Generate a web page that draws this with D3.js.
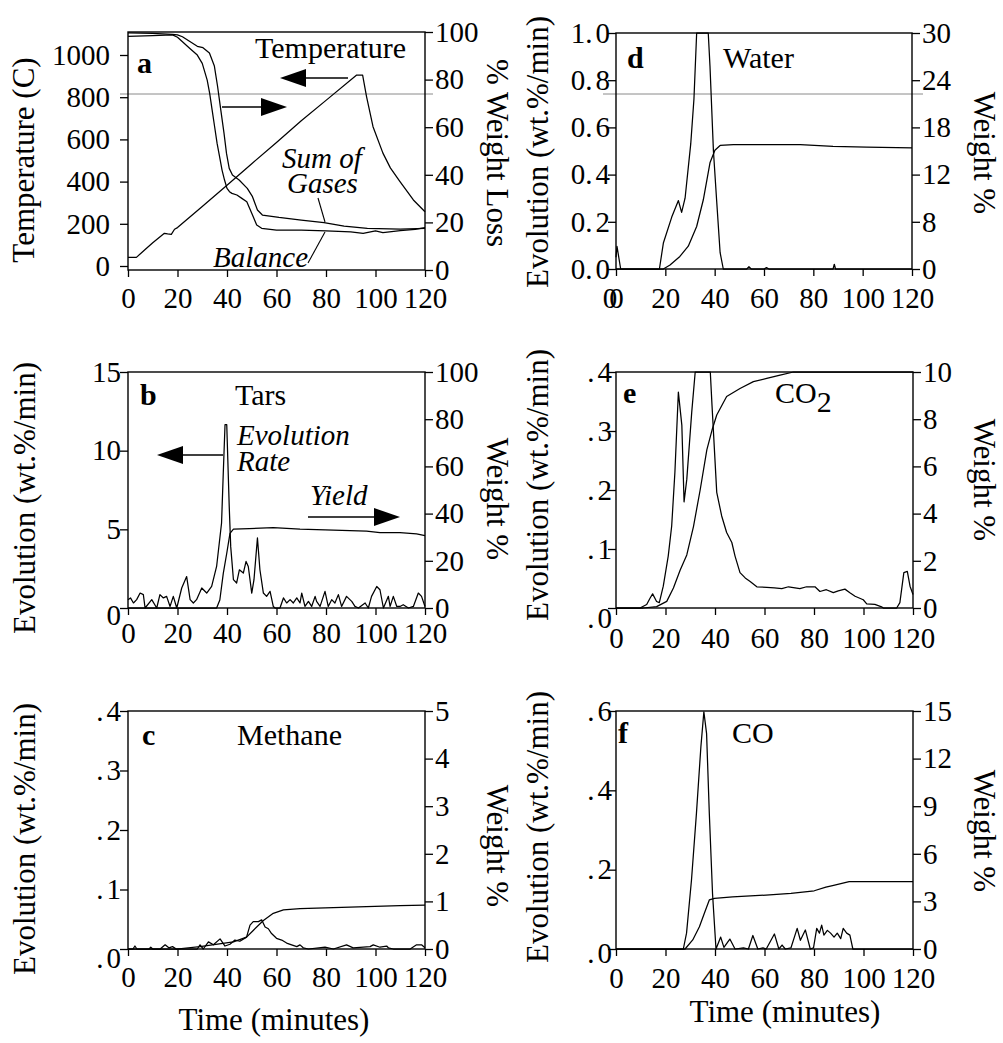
<!DOCTYPE html>
<html>
<head>
<meta charset="utf-8">
<script src="https://cdn.jsdelivr.net/npm/d3@7"></script>
<style>
  body { margin: 0; background: #fff; }
  svg text { font-family: "Liberation Serif", "Times New Roman", serif; fill: #000; }
</style>
</head>
<body>
<div id="chart"></div>
<script>
// ---- data: [time (min), value] ----
const xTicks = [0, 20, 40, 60, 80, 100, 120];

// a: temperature (left, C) and weight loss (right, %)
const temperature = [[0,41],[3.4,41],[6.7,76],[10,110],[14.7,155],[16,152],[17.5,150],[18.8,174],[20,182],[30,282],[40,383],[50,485],[60,585],[70,688],[80,785],[92.4,905],[94.8,905],[96.4,802],[99,660],[103,535],[106,465],[109.9,400],[115.3,313],[120,257]];
const balance = [[0,98.2],[10,98.5],[18,98.8],[20,97.8],[22,95.9],[25,93.1],[28,90.3],[30,86.8],[32,79.8],[33,74.2],[34,67.2],[35,60.2],[36,53.2],[37,47.6],[38,42],[39,37.8],[40,34.3],[41,32.9],[42,32.2],[44,31.5],[46,30.1],[48,28.7],[50,23.8],[52,18.9],[54,17.5],[60,16.8],[70,16.8],[80,16.4],[90,16.0],[95,15.4],[100,16.4],[103,15.7],[110,16.5],[116,17.1],[120,17.8]];
const sumGases = [[0,99.6],[10,99.4],[18,99],[20,98.8],[22,98],[25,96],[28,94],[30.3,93.4],[32.9,91.2],[34.9,85.7],[36.2,77.1],[37.5,67.2],[38.8,57.4],[39.8,49],[40.9,42.7],[42.2,39.9],[44.9,37.8],[48.2,34.3],[50.3,30.8],[52.3,25.2],[54.3,23.1],[61,22.1],[70,21],[79.2,19.9],[87.3,18.4],[96.7,17.5],[110,17.2],[120,17.5]];

// b: tars
const tarRate = [[0,0.53],[1,0.64],[2.2,0.32],[3.5,0.53],[4.9,0.95],[6.2,0.85],[6.9,0],[9.6,0.53],[11.6,0],[12.9,0.85],[14.3,0.64],[15.6,0.74],[17,0.1],[18.3,0.74],[19.7,0],[21.7,1.27],[23.7,2.0],[25.1,0.53],[26.4,0.32],[27.7,0.53],[29.8,1.27],[31.8,0.95],[33.8,1.37],[35.8,2.64],[37.8,5.4],[38.5,8.6],[39.2,11.65],[39.9,11.65],[40.9,6.46],[41.5,3.9],[42.6,1.8],[43.9,1.59],[45,2.43],[46.6,2.22],[47.7,2.96],[48.6,2.64],[50,0.95],[50.9,1.8],[52.3,4.45],[53.3,2.43],[54.7,0.95],[56,0.74],[57.4,1.06],[58.7,0.1],[59.4,0],[61.4,0],[62.8,0.64],[64.1,0.32],[65.5,0.53],[66.8,0.32],[68.2,0.64],[69.5,0.32],[70.2,0.95],[71.5,0.1],[72.9,0.42],[74.2,0.1],[75.6,0.74],[76.2,0.42],[77.6,0.1],[79.6,1.06],[80.9,0.1],[82.3,0.53],[83.6,0.32],[85,0.85],[86.3,0.1],[88.3,0.74],[90.4,0.42],[91.7,0.1],[93.1,0],[95.8,0.32],[97.1,0],[98.4,0.74],[100.5,1.37],[101.8,1.16],[103.2,0],[105.2,0.74],[105.9,0.1],[107.2,0.74],[108.6,0.1],[109.9,0.1],[111.2,0.21],[113.3,0],[115.3,0.1],[117.3,0.95],[118.6,0.74],[120,0.1]];
const tarYield = [[0,0],[35.8,0],[37.1,3.4],[38.5,14.7],[39.9,23.2],[41.2,31.6],[42.6,33.4],[49,33.6],[58.7,34.1],[69.5,33.4],[83,33],[96.4,32.6],[101.8,31.9],[109.9,31.9],[116.6,31.4],[120,30.7]];

// c: methane
const methaneRate = [[0,0],[2,0],[2.8,0.005],[3.6,0],[8.5,0],[9.2,0.003],[10,0],[13,0],[15,0.007],[16.5,0.002],[18,0.004],[19.5,0],[28,0],[29.1,0.007],[30.4,0],[32.5,0.012],[34.5,0.007],[37.2,0.017],[39.2,0.005],[41.2,0.008],[43.2,0.015],[45.2,0.013],[47.9,0.02],[49.3,0.04],[50.6,0.046],[52.7,0.046],[54,0.049],[55.4,0.037],[56.7,0.034],[58,0.026],[60,0.018],[62.1,0.015],[64.1,0.01],[66.1,0.007],[68.2,0.004],[69.5,0.007],[70.8,0.002],[72.9,0],[79.6,0.003],[83,0],[88.3,0.007],[91,0.002],[97.8,0.004],[99.1,0.007],[101.8,0.003],[104.5,0.005],[105.2,0.002],[107.2,0],[114,0],[116.6,0.007],[118.6,0.007],[120,0.002]];
const methaneYield = [[0,0],[19.7,0],[29.1,0.05],[42.6,0.15],[47.9,0.25],[50.6,0.39],[54.7,0.6],[58.7,0.75],[62.8,0.82],[69.5,0.85],[83,0.87],[96.4,0.89],[109.9,0.91],[120,0.92]];

// d: water
const waterRate = [[0,0.05],[0.4,0.096],[1.9,0],[17.6,0],[19.2,0.11],[22.6,0.22],[25.3,0.29],[26.6,0.24],[28,0.3],[30.3,0.53],[31.6,0.72],[32.7,1.0],[37.4,1.0],[38.1,0.86],[39.5,0.5],[40.8,0.29],[42.2,0.07],[43.5,0],[53,0],[53.9,0.01],[54.8,0],[60,0],[61,0.006],[62,0],[88,0],[88.5,0.02],[89,0],[120,0]];
const waterYield = [[0,0],[19.2,0],[21.9,0.5],[25.9,1.6],[29.3,2.9],[32.7,5.4],[35.4,8.8],[38.1,13.5],[40.1,15.1],[42.2,15.7],[47.6,15.8],[74.7,15.8],[88,15.6],[101.6,15.5],[120,15.4]];

// e: CO2
const co2Rate = [[0,0],[9.7,0],[12.4,0.006],[13.8,0.017],[14.8,0.024],[16.4,0.011],[17.5,0.009],[19.1,0.037],[21.1,0.088],[22.5,0.139],[23.8,0.23],[25.2,0.366],[26.6,0.31],[27.5,0.18],[28.6,0.218],[30.6,0.332],[32,0.4],[38.1,0.4],[38.8,0.343],[40.7,0.196],[42.7,0.156],[44.7,0.128],[46.8,0.111],[48.1,0.088],[50.1,0.06],[52.2,0.051],[54.2,0.045],[56.9,0.036],[60.9,0.035],[64,0.034],[67,0.033],[69.7,0.036],[74.3,0.033],[77,0.036],[80.4,0.036],[82.4,0.028],[85,0.031],[87.8,0.026],[89.8,0.029],[92.5,0.032],[94.5,0.026],[96.6,0.02],[99.9,0.014],[101.3,0.007],[104.6,0.006],[107.3,0.002],[108,0],[113.4,0],[114.7,0.009],[116.3,0.06],[117.7,0.062],[118.8,0.037],[120,0.023]];
const co2Yield = [[0,0],[11,0],[16.4,0.06],[20.5,0.28],[23.2,0.85],[25.9,1.6],[28.6,2.25],[31.3,3.45],[34,5.0],[36.7,6.7],[38.8,7.54],[40.7,8.18],[44.7,8.96],[50.1,9.3],[55.5,9.59],[60.9,9.73],[66.3,9.87],[71.7,10],[120,10]];

// f: CO
const coRate = [[0,0],[27.2,0],[28.5,0.04],[30.5,0.174],[32.5,0.342],[34.3,0.51],[35.5,0.598],[36.6,0.543],[37.7,0.342],[39,0.14],[40.4,0],[42.3,0.03],[43.6,0.004],[46,0.025],[48.1,0],[51.5,0.003],[53.5,0],[55.3,0.034],[57.3,0],[59.4,0.003],[60.7,0],[64,0.038],[65.8,0],[67.1,0.01],[68.4,0],[70.7,0.003],[73.2,0.052],[74.5,0.022],[76.5,0.048],[78.5,0],[79.8,0.003],[81.1,0.052],[82.2,0.04],[83.1,0.06],[84,0.035],[85.4,0.047],[86.7,0.04],[88.1,0.03],[89.4,0.04],[90.8,0.026],[91.8,0.052],[93.2,0.04],[94.5,0.035],[95.7,0],[120,0]];
const coYield = [[0,0],[27.9,0],[31,0.57],[33.7,1.4],[35.7,2.25],[37.7,3.09],[39.8,3.19],[47.1,3.29],[60.6,3.4],[70.7,3.5],[80.1,3.67],[84.8,3.9],[87.5,4.0],[94.2,4.24],[98.3,4.24],[120,4.24]];

// ---- axis ticks and labels ----
const tempTicks = [0, 200, 400, 600, 800, 1000];
const lossTicks = [0, 20, 40, 60, 80, 100];
const tarTicks = [0, 5, 10, 15];
const methaneTicks = [0, 0.1, 0.2, 0.3, 0.4];
const methaneRightTicks = [0, 1, 2, 3, 4, 5];
const waterTicks = [0, 0.2, 0.4, 0.6, 0.8, 1.0];
const waterRightTicks = [0, 6, 12, 18, 24, 30];
const waterRightLabels = ["0", "8", "12", "18", "24", "30"];   // as printed
const co2Ticks = [0, 0.1, 0.2, 0.3, 0.4];
const co2RightTicks = [0, 2, 4, 6, 8, 10];
const coTicks = [0, 0.2, 0.4, 0.6];
const coRightTicks = [0, 3, 6, 9, 12, 15];

const dotFmt = d => d3.format(".1f")(d).replace(/^0/, "");   // ".4" style

// ---- panels (layout) ----
const panels = [
  { id: "a", x0: 128, x1: 425, top: 32, bottom: 270,
    leftDomain: [0, 1000], leftRange: [266, 55], leftTicks: tempTicks, leftFmt: d3.format("d"), leftPad: 10, zeroShift: 0,
    rightDomain: [0, 100], rightTicks: lossTicks, rightFmt: d3.format("d"),
    xPad: 10, leftTitle: "Temperature (C)", leftTitlePos: [34, 160], rightTitle: "% Weight Loss", rightTitlePos: [487, 153],
    series: [{data: temperature, axis: "L"}, {data: balance, axis: "R"}, {data: sumGases, axis: "R"}],
    texts: [
      {t: "a", x: 9, y: 41, w: "bold"},
      {t: "Temperature", x: 127, y: 26},
      {t: "Sum of", x: 154, y: 136, i: true},
      {t: "Gases", x: 159, y: 161, i: true},
      {t: "Balance", x: 85, y: 235, i: true}
    ],
    arrows: [{from: [220, 46], to: [152, 46]}, {from: [94, 75], to: [159, 75]}],
    pointers: [{from: [190, 166], to: [197, 190]}, {from: [180, 231], to: [197, 200]}],
    scanRule: [-8, 62, 305] },
  { id: "b", x0: 128, x1: 425, top: 372, bottom: 608,
    leftDomain: [0, 15], leftTicks: tarTicks, leftFmt: d3.format("d"), leftPad: -1, zeroShift: 7,
    rightDomain: [0, 100], rightTicks: lossTicks, rightFmt: d3.format("d"),
    xPad: 7, leftTitle: "Evolution (wt.%/min)", leftTitlePos: [35, 498], rightTitle: "Weight %", rightTitlePos: [487, 499],
    series: [{data: tarRate, axis: "L"}, {data: tarYield, axis: "R"}],
    texts: [
      {t: "b", x: 12, y: 33, w: "bold"},
      {t: "Tars", x: 107, y: 33},
      {t: "Evolution", x: 109, y: 73, i: true},
      {t: "Rate", x: 109, y: 99, i: true},
      {t: "Yield", x: 182, y: 133, i: true}
    ],
    arrows: [{from: [95, 83], to: [29, 83]}, {from: [180, 145], to: [272, 145]}],
    pointers: [] },
  { id: "c", x0: 128, x1: 425, top: 711, bottom: 949,
    leftDomain: [0, 0.4], leftTicks: methaneTicks, leftFmt: dotFmt, leftPad: -1, zeroShift: 9,
    rightDomain: [0, 5], rightTicks: methaneRightTicks, rightFmt: d3.format("d"),
    xPad: 10, leftTitle: "Evolution (wt.%/min)", leftTitlePos: [35, 839], rightTitle: "Weight %", rightTitlePos: [487, 846],
    bottomTitle: "Time (minutes)", bottomTitlePos: [274, 1030],
    series: [{data: methaneRate, axis: "L"}, {data: methaneYield, axis: "R"}],
    texts: [
      {t: "c", x: 14, y: 34, w: "bold"},
      {t: "Methane", x: 109, y: 34}
    ],
    arrows: [], pointers: [] },
  { id: "d", x0: 616, x1: 912, top: 33, bottom: 269,
    leftDomain: [0, 1], leftTicks: waterTicks, leftFmt: d3.format(".1f"), leftPad: -2, zeroShift: 0,
    rightDomain: [0, 30], rightTicks: waterRightTicks, rightFmt: (d, i) => waterRightLabels[i],
    xPad: 11, doubleZero: true, leftTitle: "Evolution (wt.%/min)", leftTitlePos: [548, 152], rightTitle: "Weight %", rightTitlePos: [974, 153],
    series: [{data: waterRate, axis: "L"}, {data: waterYield, axis: "R"}],
    texts: [
      {t: "d", x: 11, y: 35, w: "bold"},
      {t: "Water", x: 107, y: 35}
    ],
    arrows: [], pointers: [],
    scanRule: [-13, 61, 307] },
  { id: "e", x0: 616, x1: 913, top: 372, bottom: 608,
    leftDomain: [0, 0.4], leftTicks: co2Ticks, leftFmt: dotFmt, leftPad: -4, zeroShift: 10,
    rightDomain: [0, 10], rightTicks: co2RightTicks, rightFmt: d3.format("d"),
    xPad: 12, leftTitle: "Evolution (wt.%/min)", leftTitlePos: [548, 485], rightTitle: "Weight %", rightTitlePos: [974, 480],
    series: [{data: co2Rate, axis: "L"}, {data: co2Yield, axis: "R"}],
    texts: [
      {t: "e", x: 7, y: 31, w: "bold"},
      {t: "CO", x: 159, y: 31, sub: "2"}
    ],
    arrows: [], pointers: [] },
  { id: "f", x0: 616, x1: 913, top: 711, bottom: 949,
    leftDomain: [0, 0.6], leftTicks: coTicks, leftFmt: dotFmt, leftPad: -4, zeroShift: 4,
    rightDomain: [0, 15], rightTicks: coRightTicks, rightFmt: d3.format("d"),
    xPad: 11, leftTitle: "Evolution (wt.%/min)", leftTitlePos: [548, 827], rightTitle: "Weight %", rightTitlePos: [974, 831],
    bottomTitle: "Time (minutes)", bottomTitlePos: [785, 1022],
    series: [{data: coRate, axis: "L"}, {data: coYield, axis: "R"}],
    texts: [
      {t: "f", x: 2, y: 32, w: "bold"},
      {t: "CO", x: 116, y: 32}
    ],
    arrows: [], pointers: [] }
];

const svg = d3.select("#chart").append("svg")
  .attr("width", 1003)
  .attr("height", 1043)
  .attr("font-family", "Liberation Serif, Times New Roman, serif");

const FONT = 29;

// a little extra room after a decimal point, like the printed figure
function spreadDots(sel) {
  sel.each(function() {
    const s = this.textContent;
    if (s.indexOf(".") < 0) return;
    const t = d3.select(this).text(null);
    const k = s.indexOf(".");
    t.append("tspan").text(s.slice(0, k + 1));
    t.append("tspan").attr("dx", 3).text(s.slice(k + 1));
  });
}

function styleAxis(g) {
  g.attr("font-size", FONT).attr("font-family", null);
  g.select(".domain").remove();
  g.selectAll(".tick line").attr("stroke", "#000").attr("stroke-width", 1.3);
}

panels.forEach(p => {
  const g = svg.append("g").attr("class", "panel panel-" + p.id);

  const x = d3.scaleLinear().domain([0, 120]).range([p.x0, p.x1]);
  const yL = d3.scaleLinear().domain(p.leftDomain).range(p.leftRange || [p.bottom, p.top]);
  const yR = d3.scaleLinear().domain(p.rightDomain).range([p.bottom, p.top]);

  // faint scanner rule across the top row
  if (p.scanRule) {
    g.append("line")
      .attr("x1", p.x0 + p.scanRule[0]).attr("x2", p.x0 + p.scanRule[2])
      .attr("y1", p.top + p.scanRule[1]).attr("y2", p.top + p.scanRule[1])
      .attr("stroke", "#8a8a8a").attr("stroke-width", 1);
  }

  // curves
  p.series.forEach(s => {
    const y = s.axis === "L" ? yL : yR;
    g.append("path")
      .datum(s.data)
      .attr("fill", "none")
      .attr("stroke", "#000")
      .attr("stroke-width", 1.25)
      .attr("stroke-linejoin", "round")
      .attr("d", d3.line().x(d => x(d[0])).y(d => y(d[1])));
  });

  // frame
  g.append("rect")
    .attr("x", p.x0).attr("y", p.top)
    .attr("width", p.x1 - p.x0).attr("height", p.bottom - p.top)
    .attr("fill", "none").attr("stroke", "#000").attr("stroke-width", 1.4);

  // axes
  const gx = g.append("g")
    .attr("transform", `translate(0,${p.bottom})`)
    .call(d3.axisBottom(x).tickValues(xTicks).tickSize(7).tickSizeOuter(0)
      .tickPadding(p.xPad).tickFormat(d3.format("d")));
  styleAxis(gx);
  if (p.doubleZero) {
    gx.append("text")
      .attr("x", x(0) - 6).attr("y", 7 + p.xPad).attr("dy", "0.71em")
      .attr("text-anchor", "middle").text("0");
  }

  const gl = g.append("g")
    .attr("transform", `translate(${p.x0},0)`)
    .call(d3.axisLeft(yL).tickValues(p.leftTicks).tickSize(8).tickSizeOuter(0)
      .tickPadding(p.leftPad).tickFormat(p.leftFmt));
  styleAxis(gl);
  gl.selectAll(".tick text").filter(d => d === 0).attr("transform", `translate(0,${p.zeroShift})`);
  spreadDots(gl.selectAll(".tick text"));

  const gr = g.append("g")
    .attr("transform", `translate(${p.x1},0)`)
    .call(d3.axisRight(yR).tickValues(p.rightTicks).tickSize(8).tickSizeOuter(0)
      .tickPadding(2).tickFormat(p.rightFmt));
  styleAxis(gr);

  // axis titles
  g.append("text")
    .attr("transform", `translate(${p.leftTitlePos[0]},${p.leftTitlePos[1]}) rotate(-90)`)
    .attr("text-anchor", "middle").attr("font-size", 31)
    .text(p.leftTitle);
  g.append("text")
    .attr("transform", `translate(${p.rightTitlePos[0]},${p.rightTitlePos[1]}) rotate(90)`)
    .attr("text-anchor", "middle").attr("font-size", 31)
    .text(p.rightTitle);
  if (p.bottomTitle) {
    g.append("text")
      .attr("x", p.bottomTitlePos[0]).attr("y", p.bottomTitlePos[1])
      .attr("text-anchor", "middle").attr("font-size", 31)
      .text(p.bottomTitle);
  }

  // in-plot labels
  p.texts.forEach(t => {
    const el = g.append("text")
      .attr("x", p.x0 + t.x).attr("y", p.top + t.y)
      .attr("font-size", t.i ? 29 : 30)
      .attr("font-weight", t.w || null)
      .attr("font-style", t.i ? "italic" : null)
      .text(t.t);
    if (t.sub) el.append("tspan").attr("dy", 9).text(t.sub);
  });

  // arrows with filled heads
  p.arrows.forEach(a => {
    const [fx, fy] = [p.x0 + a.from[0], p.top + a.from[1]];
    const [tx, ty] = [p.x0 + a.to[0], p.top + a.to[1]];
    const len = Math.hypot(tx - fx, ty - fy);
    const ux = (tx - fx) / len, uy = (ty - fy) / len;
    const hl = 26, hw = 9;
    const bx = tx - ux * hl, by = ty - uy * hl;
    g.append("line")
      .attr("x1", fx).attr("y1", fy).attr("x2", bx).attr("y2", by)
      .attr("stroke", "#000").attr("stroke-width", 1.3);
    g.append("path")
      .attr("d", `M${tx},${ty}L${bx - uy * hw},${by + ux * hw}L${bx + uy * hw},${by - ux * hw}Z`)
      .attr("fill", "#000");
  });

  p.pointers.forEach(l => {
    g.append("line")
      .attr("x1", p.x0 + l.from[0]).attr("y1", p.top + l.from[1])
      .attr("x2", p.x0 + l.to[0]).attr("y2", p.top + l.to[1])
      .attr("stroke", "#000").attr("stroke-width", 1.1);
  });
});
</script>
</body>
</html>
